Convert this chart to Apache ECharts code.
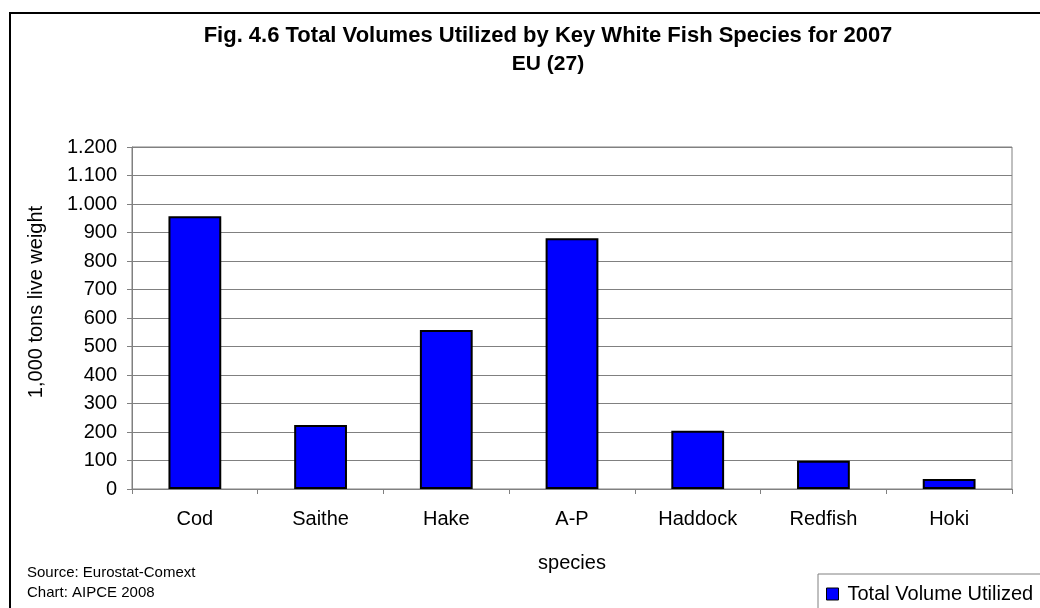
<!DOCTYPE html>
<html>
<head>
<meta charset="utf-8">
<script src="https://cdn.jsdelivr.net/npm/echarts@6/dist/echarts.min.js"></script>
<style>
html,body{margin:0;padding:0;background:#fff;}
#chart{width:1040px;height:608px;}
</style>
</head>
<body>
<div id="chart"></div>
<script>
var titleText = 'Fig. 4.6 Total Volumes Utilized by Key White Fish Species for 2007';
var subTitleText = 'EU (27)';
var categories = ['Cod', 'Saithe', 'Hake', 'A-P', 'Haddock', 'Redfish', 'Hoki'];
var seriesName = 'Total Volume Utilized';
var volumes = [957, 225, 558, 880, 204, 99, 35];
var yMin = 0, yMax = 1200, yStep = 100;
var yAxisName = '1,000 tons live weight';
var xAxisName = 'species';
var sourceLines = ['Source: Eurostat-Comext', 'Chart: AIPCE 2008'];

var FONT = "'Liberation Sans', Arial, sans-serif";
function fmt(v) {
  if (v >= 1000) {
    var r = String(v % 1000);
    while (r.length < 3) r = '0' + r;
    return Math.floor(v / 1000) + '.' + r;
  }
  return String(v);
}

var chart = echarts.init(document.getElementById('chart'), null, {renderer: 'canvas'});
chart.setOption({
  backgroundColor: '#ffffff',
  animation: false,
  textStyle: {fontFamily: FONT},
  title: {
    text: titleText,
    subtext: subTitleText,
    left: 548,
    top: 24,
    padding: 0,
    itemGap: 4,
    textAlign: 'center',
    textStyle: {fontFamily: FONT, fontSize: 22, fontWeight: 'bold', color: '#000', lineHeight: 24},
    subtextStyle: {fontFamily: FONT, fontSize: 21, fontWeight: 'bold', color: '#000', lineHeight: 24}
  },
  legend: {
    left: 818,
    top: 574,
    padding: [10, 8, 10, 8],
    borderColor: '#808080',
    borderWidth: 1,
    itemWidth: 12,
    itemHeight: 12,
    icon: 'rect',
    itemStyle: {color: '#0000FF', borderColor: '#000', borderWidth: 1},
    textStyle: {fontFamily: FONT, fontSize: 20, color: '#000', padding: [0, 0, 0, 4]},
    data: [seriesName]
  },
  grid: {
    left: 132, right: 28, top: 147, bottom: 119,
    show: true, borderColor: '#808080', borderWidth: 1, backgroundColor: 'transparent',
    containLabel: false
  },
  xAxis: {
    type: 'category',
    data: categories,
    name: xAxisName,
    nameLocation: 'middle',
    nameGap: 64,
    nameTextStyle: {fontFamily: FONT, fontSize: 20, color: '#000'},
    axisLine: {lineStyle: {color: '#808080', width: 1}},
    axisTick: {show: true, alignWithLabel: false, length: 5, lineStyle: {color: '#808080'}},
    axisLabel: {fontFamily: FONT, fontSize: 20, color: '#000', margin: 20},
    splitLine: {show: false}
  },
  yAxis: {
    type: 'value',
    min: yMin, max: yMax, interval: yStep,
    name: yAxisName,
    nameLocation: 'middle',
    nameGap: 86,
    nameTextStyle: {fontFamily: FONT, fontSize: 20, color: '#000', padding: [0, 0, 0, 32]},
    axisLine: {show: true, lineStyle: {color: '#808080', width: 1}},
    axisTick: {show: true, length: 5, lineStyle: {color: '#808080'}},
    axisLabel: {fontFamily: FONT, fontSize: 20, color: '#000', margin: 15, formatter: fmt},
    splitLine: {show: true, lineStyle: {color: '#808080', width: 1}}
  },
  series: [{
    name: seriesName,
    type: 'bar',
    data: volumes,
    barCategoryGap: '58%',
    itemStyle: {color: '#0000FF', borderColor: '#000', borderWidth: 2}
  }],
  graphic: [
    {type: 'rect', shape: {x: 10, y: 13, width: 1200, height: 800}, style: {fill: 'none', stroke: '#000', lineWidth: 2}, silent: true, z: 100},
    {type: 'text', x: 27, y: 573, style: {text: sourceLines[0], font: "15px 'Liberation Sans', Arial, sans-serif", fill: '#000', verticalAlign: 'middle'}},
    {type: 'text', x: 27, y: 593, style: {text: sourceLines[1], font: "15px 'Liberation Sans', Arial, sans-serif", fill: '#000', verticalAlign: 'middle'}}
  ]
});
</script>
</body>
</html>
